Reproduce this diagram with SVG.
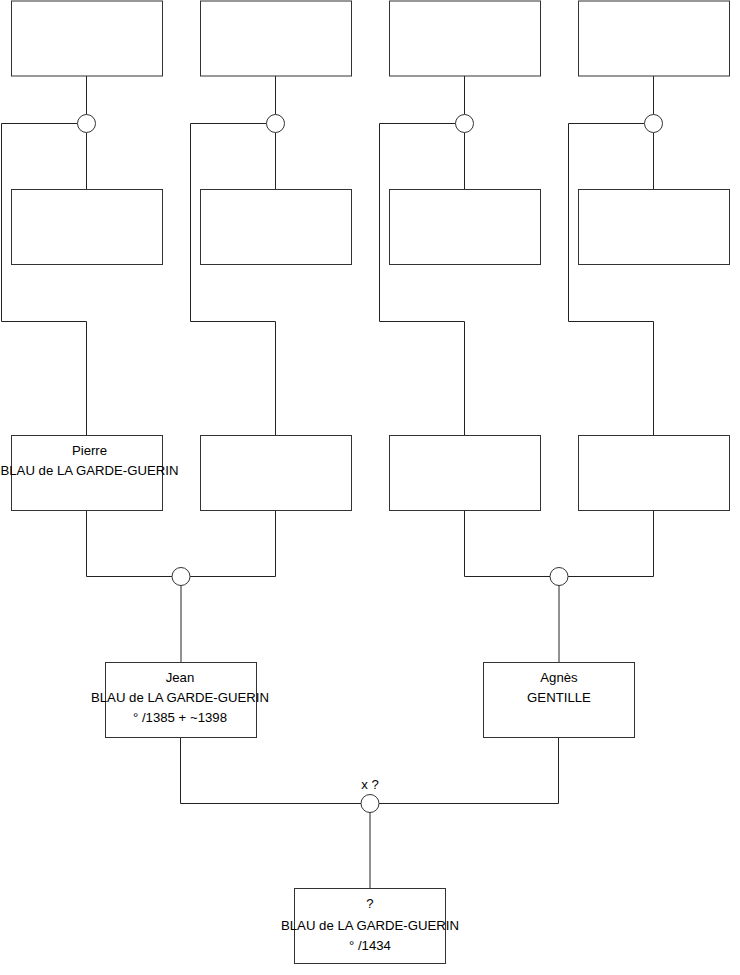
<svg xmlns="http://www.w3.org/2000/svg" width="740" height="975" viewBox="0 0 740 975">
<style>
.box{fill:#fff;stroke:#333;stroke-width:1}
.c{fill:#fff;stroke:#333;stroke-width:1}
.ln{fill:none;stroke:#222;stroke-width:1}
text{font-family:"Liberation Sans",Arial,sans-serif;font-size:13.2px;fill:#000;text-anchor:middle}
</style>
<rect width="740" height="975" fill="#fff"/>
<g id="connectors">
<path class="ln" d="M86.5 76V114.5M86.5 132.5V189.5M77.5 123.5H1.5V321.5H86.5V435.5"/>
<path class="ln" d="M275.5 76V114.5M275.5 132.5V189.5M266.5 123.5H190.5V321.5H275.5V435.5"/>
<path class="ln" d="M464.5 76V114.5M464.5 132.5V189.5M455.5 123.5H379.5V321.5H464.5V435.5"/>
<path class="ln" d="M653.5 76V114.5M653.5 132.5V189.5M644.5 123.5H568.5V321.5H653.5V435.5"/>
<path class="ln" d="M86.5 510.5V576.5H172M275.5 510.5V576.5H190M181 585.5V662.5"/>
<path class="ln" d="M464.5 510.5V576.5H550M653.5 510.5V576.5H568M559 585.5V662.5"/>
<path class="ln" d="M180.5 737.5V803.5H361M558.5 737.5V803.5H379M370 812.5V888.5"/>
</g>
<g id="u1"><circle class="c" cx="86.5" cy="123.5" r="9"/></g>
<g id="u2"><circle class="c" cx="275.5" cy="123.5" r="9"/></g>
<g id="u3"><circle class="c" cx="464.5" cy="123.5" r="9"/></g>
<g id="u4"><circle class="c" cx="653.5" cy="123.5" r="9"/></g>
<g id="u5"><circle class="c" cx="181" cy="576.5" r="9"/></g>
<g id="u6"><circle class="c" cx="559" cy="576.5" r="9"/></g>
<g id="u7"><circle class="c" cx="370" cy="803.5" r="9"/><text x="370" y="789">x ?</text></g>
<g id="t1"><rect class="box" x="11.5" y="1" width="151" height="75"/></g>
<g id="t2"><rect class="box" x="200.5" y="1" width="151" height="75"/></g>
<g id="t3"><rect class="box" x="389.5" y="1" width="151" height="75"/></g>
<g id="t4"><rect class="box" x="578.5" y="1" width="151" height="75"/></g>
<g id="m1"><rect class="box" x="11.5" y="189.5" width="151" height="75"/></g>
<g id="m2"><rect class="box" x="200.5" y="189.5" width="151" height="75"/></g>
<g id="m3"><rect class="box" x="389.5" y="189.5" width="151" height="75"/></g>
<g id="m4"><rect class="box" x="578.5" y="189.5" width="151" height="75"/></g>
<g id="pierre"><rect class="box" x="11.5" y="435.5" width="151" height="75"/><text x="89.5" y="455">Pierre</text><text x="89.5" y="475">BLAU de LA GARDE-GUERIN</text></g>
<g id="g2"><rect class="box" x="200.5" y="435.5" width="151" height="75"/></g>
<g id="g3"><rect class="box" x="389.5" y="435.5" width="151" height="75"/></g>
<g id="g4"><rect class="box" x="578.5" y="435.5" width="151" height="75"/></g>
<g id="jean"><rect class="box" x="105.5" y="662.5" width="151" height="75"/><text x="180" y="682">Jean</text><text x="180" y="702">BLAU de LA GARDE-GUERIN</text><text x="180" y="722">° /1385 + ~1398</text></g>
<g id="agnes"><rect class="box" x="483.5" y="662.5" width="151" height="75"/><text x="559" y="682">Agnès</text><text x="559" y="702">GENTILLE</text></g>
<g id="child"><rect class="box" x="294.5" y="888.5" width="151" height="75"/><text x="370" y="908">?</text><text x="370" y="930">BLAU de LA GARDE-GUERIN</text><text x="370" y="950">° /1434</text></g>
</svg>
